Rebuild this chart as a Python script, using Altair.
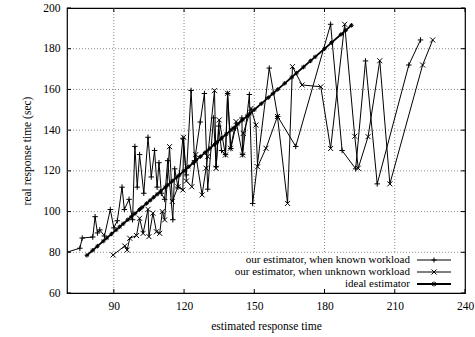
import altair as alt
import pandas as pd

# measured series: estimated vs. real response time
known_x = [67, 75.5, 76.5, 81, 82, 83, 84, 86, 88.5, 90, 91.5, 93.5, 94.5, 96.5, 98, 99, 100, 101,
           102.8, 104.6, 106, 107.4, 108.5, 109.3, 110.3, 111.7, 113, 115.2, 116, 117.4, 119.5, 121,
           123, 124.5, 126.9, 128.7, 130.1, 132.6, 133.7, 134.8, 136, 137.7, 138.6, 140, 141.9, 144.7,
           145, 147.9, 149.3, 156.4, 160, 167.7, 182.6, 187.5, 193.3, 197.5, 202.5, 216, 221]
known_y = [79, 82, 87, 87.5, 97.5, 89.5, 91, 88, 101, 92, 95.5, 112, 101, 106, 96, 132, 112, 128,
           109, 136.5, 117, 130, 112, 124, 109, 106, 125, 96, 121, 112, 136, 118,
           159.5, 125, 144, 158, 111, 146, 122, 142, 130, 128, 158, 131, 141, 146,
           128, 157.5, 104, 170.5, 146.7, 132, 192, 130, 121, 174, 113.6, 172, 184.3]

unknown_x = [89.7, 94.7, 95.7, 96.8, 99.7, 101, 102.5, 104.6, 105, 106.7, 108.2, 109.6, 110.7, 111.7,
             113.8, 115, 117.4, 119.5, 119.8, 121, 123.3, 125, 127.7, 129.4, 130.1, 133, 133.7, 135,
             137.7, 138.6, 139.8, 142.2, 145, 145.3, 148.6, 150.7, 151.4, 155, 159.9, 164.2, 166.3,
             170.4, 178.4, 182.6, 188.6, 192.9, 194.4, 198.6, 203.6, 207.9, 221.9, 226.2]
unknown_y = [78.7, 83.1, 81.1, 86.9, 88.2, 96.7, 89.3, 101.1, 87.7, 99.2, 90.1, 89.3, 100, 95.9,
             131.9, 105, 112.2, 110.6, 136.5, 115, 112.2, 128, 108.2, 121.3, 127, 159.4, 121.3, 145,
             127.8, 158.1, 131.1, 144.2, 127.8, 138.4, 150.7, 142.5, 122, 131.1, 146.7, 104, 171.2,
             162.2, 161.3, 131, 192, 137, 121.3, 136.8, 174.1, 113.6, 172, 184.3]

ideal_v = [78.5, 81, 83, 85.5, 87, 89, 91, 92.5, 94, 96, 97.5, 99, 101, 102, 104, 105.5, 107, 108.5,
           110, 112, 113, 115, 117, 118, 120, 122, 124, 125, 127, 129, 131, 133, 134, 136, 138, 140,
           141, 143, 145, 147, 148, 150, 153, 156, 158, 160, 163, 166, 168, 171, 174, 176, 180, 183,
           187, 189, 191.5]

labels = ["our estimator, when known workload",
          "our estimator, when unknown workload",
          "ideal estimator"]

x_ticks = [90, 120, 150, 180, 210, 240]
y_ticks = [60, 80, 100, 120, 140, 160, 180, 200]
grid_x = [90, 120, 150, 180, 210]
grid_x_bottom = [60, 80, 80, 80, 80]
grid_y = [80, 100, 120, 140, 160, 180]

FONT = "'Liberation Serif', 'Times New Roman', 'DejaVu Serif', serif"
FS = 11.5
W, H = 398, 285
TICK = 4

PLUS = "M-1,0L1,0M0,-1L0,1"
CROSS = "M-1,-1L1,1M-1,1L1,-1"
STAR = "M-1,0L1,0M0,-1L0,1M-0.7,-0.7L0.7,0.7M-0.7,0.7L0.7,-0.7"

xs = alt.Scale(domain=[70, 240], nice=False, zero=False)
ys = alt.Scale(domain=[60, 200], nice=False, zero=False)

X = alt.X("x:Q", scale=xs, axis=alt.Axis(
    values=x_ticks, title="estimated response time", grid=False, ticks=False, domain=False,
    labelFont=FONT, labelFontSize=FS, labelColor="black", labelPadding=7, labelFlush=False,
    labelOverlap=False, titleFont=FONT, titleFontSize=FS, titleFontWeight="normal",
    titleColor="black", titlePadding=9))
Y = alt.Y("y:Q", scale=ys, axis=alt.Axis(
    values=y_ticks, title="real response time (sec)", grid=False, ticks=False, domain=False,
    labelFont=FONT, labelFontSize=FS, labelColor="black", labelPadding=7, labelFlush=False,
    labelOverlap=False, titleFont=FONT, titleFontSize=FS, titleFontWeight="normal",
    titleColor="black", titlePadding=10))

known = pd.DataFrame({"x": known_x, "y": known_y, "i": range(len(known_x))})
unknown = pd.DataFrame({"x": unknown_x, "y": unknown_y, "i": range(len(unknown_x))})
ideal = pd.DataFrame({"x": ideal_v, "y": ideal_v, "i": range(len(ideal_v))})

gridv = pd.DataFrame({"x": grid_x, "y": [200] * len(grid_x), "y2": grid_x_bottom})
gridh = pd.DataFrame({"y": grid_y})
xt = pd.DataFrame({"x": x_ticks})
yt = pd.DataFrame({"y": y_ticks})

grid_style = dict(color="#8a8a8a", strokeWidth=1, strokeDash=[1, 2])

vgrid = alt.Chart(gridv).mark_rule(**grid_style).encode(x=X, y=Y, y2="y2:Q")
hgrid = alt.Chart(gridh).mark_rule(**grid_style).encode(y=Y, x=alt.value(0), x2=alt.value(W))

ticks_b = alt.Chart(xt).mark_rule(color="black").encode(x=X, y=alt.value(H), y2=alt.value(H - TICK))
ticks_t = alt.Chart(xt).mark_rule(color="black").encode(x=X, y=alt.value(0), y2=alt.value(TICK))
ticks_l = alt.Chart(yt).mark_rule(color="black").encode(y=Y, x=alt.value(0), x2=alt.value(TICK))
ticks_r = alt.Chart(yt).mark_rule(color="black").encode(y=Y, x=alt.value(W), x2=alt.value(W - TICK))


def series(df, shape, width, size):
    line = alt.Chart(df).mark_line(color="black", strokeWidth=width, clip=True).encode(
        x=X, y=Y, order="i:Q")
    pts = alt.Chart(df).mark_point(shape=shape, filled=False, color="black", strokeWidth=1,
                                   size=size, opacity=1, clip=True).encode(x=X, y=Y)
    return line + pts


one = pd.DataFrame({"k": [0]})
legend_layers = []
for lab, shape, width, yy in zip(labels, [PLUS, CROSS, STAR], [1, 1, 1.8], [252, 264, 276]):
    d = pd.DataFrame({"label": [lab]})
    legend_layers.append(alt.Chart(d).mark_text(
        align="right", baseline="middle", font=FONT, fontSize=11, color="black").encode(
        x=alt.value(343), y=alt.value(yy), text="label:N"))
    legend_layers.append(alt.Chart(one).mark_rule(color="black", strokeWidth=width).encode(
        x=alt.value(350), x2=alt.value(384), y=alt.value(yy)))
    legend_layers.append(alt.Chart(one).mark_point(
        shape=shape, filled=False, color="black", strokeWidth=1, size=25, opacity=1).encode(
        x=alt.value(367), y=alt.value(yy)))

chart = alt.layer(
    vgrid, hgrid,
    series(known, PLUS, 1, 30),
    series(unknown, CROSS, 1, 25),
    series(ideal, STAR, 1.8, 20),
    ticks_b, ticks_t, ticks_l, ticks_r,
    *legend_layers,
).properties(
    width=W, height=H,
    padding={"left": 67, "top": 8, "right": 10, "bottom": 44},
    autosize=alt.AutoSizeParams(type="none"),
    background="white",
).configure_view(stroke="black", strokeWidth=1.2)

chart.save("out.html", embed_options={"renderer": "svg", "actions": False})
